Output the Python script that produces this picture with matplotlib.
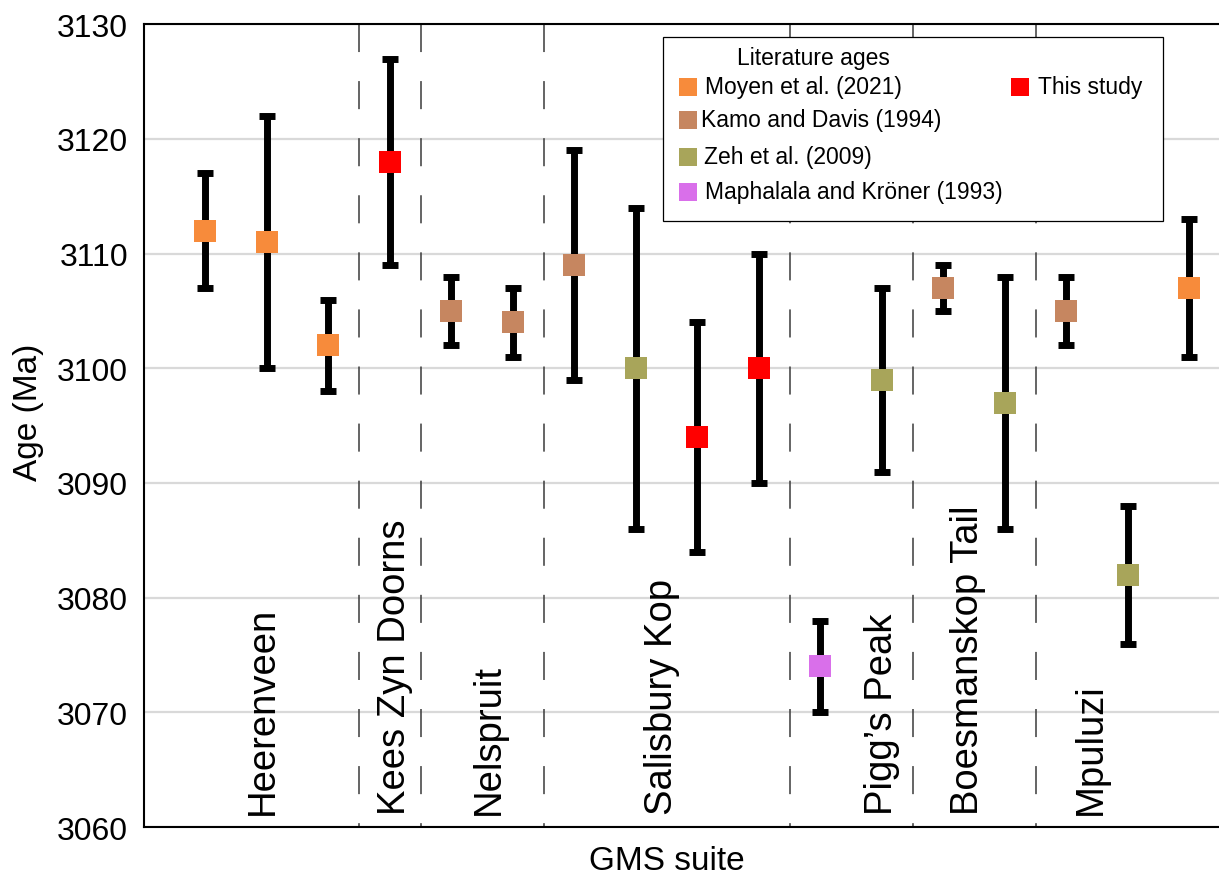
import matplotlib
matplotlib.use("Agg")
import matplotlib.pyplot as plt
from matplotlib.lines import Line2D
from matplotlib.patches import Rectangle

plt.rcParams["font.family"] = ["Liberation Sans", "DejaVu Sans"]
plt.rcParams["lines.scale_dashes"] = False

# U-Pb zircon ages (Ma) with 2-sigma uncertainties, one entry per sample
ages = [3112, 3111, 3102, 3118, 3105, 3104, 3109, 3100, 3094, 3100,
        3074, 3099, 3107, 3097, 3105, 3082, 3107]
errors = [5, 11, 4, 9, 3, 3, 10, 14, 10, 10, 4, 8, 2, 11, 3, 6, 6]
sources = ["Moyen", "Moyen", "Moyen", "This", "Kamo", "Kamo", "Kamo", "Zeh",
           "This", "This", "Maph", "Zeh", "Kamo", "Zeh", "Kamo", "Zeh", "Moyen"]

# Pluton groups: name, label position and boundary between groups
suite_names = ["Heerenveen", "Kees Zyn Doorns", "Nelspruit", "Salisbury Kop",
               "Pigg\u2019s Peak", "Boesmanskop Tail", "Mpuluzi"]
suite_label_x = [1.94, 4.08, 5.6, 8.42, 12.0, 13.4, 15.4]
suite_bounds = [3.5, 4.5, 6.5, 10.5, 12.5, 14.5]

source_colors = {
    "Moyen": "#F78B3B",
    "Kamo": "#C68660",
    "Zeh": "#A8A55A",
    "Maph": "#D96FEA",
    "This": "#FF0000",
}
source_labels = {
    "Moyen": "Moyen et al. (2021)",
    "Kamo": "Kamo and Davis (1994)",
    "Zeh": "Zeh et al. (2009)",
    "Maph": "Maphalala and Kr\u00f6ner (1993)",
    "This": "This study",
}

W, H = 1219, 879
fig = plt.figure(figsize=(W / 100, H / 100), dpi=100)
ax_left, ax_right, ax_top, ax_bottom = 144, 1219, 25.3, 828
ax = fig.add_axes([ax_left / W, 1 - ax_bottom / H,
                   (ax_right - ax_left) / W, (ax_bottom - ax_top) / H])

xs = list(range(1, len(ages) + 1))
ax.set_xlim(0, 17.48)
ax.set_ylim(3060, 3130)
ax.set_yticks(range(3060, 3131, 10))
ax.set_xticks([])
ax.tick_params(axis="y", length=0, pad=11.5, labelsize=23)

ax.yaxis.grid(True, color="#d9d9d9", linewidth=1.6)
ax.set_axisbelow(True)
for side in ("left", "top", "bottom"):
    ax.spines[side].set_linewidth(1.5)
    ax.spines[side].set_color("black")
ax.spines["right"].set_visible(False)

# group separators, dashes starting at the top edge
ax.vlines(suite_bounds, 3130, 3060, colors="#3a3a3a", linewidth=1.1,
          linestyles=[(0, (20.2, 20.9))], zorder=1.5)

# error bars and sample markers
ax.errorbar(xs, ages, yerr=errors, fmt="none", ecolor="black",
            elinewidth=5.0, capsize=6.1, capthick=5.0, zorder=2)
for key in source_colors:
    px = [x for x, s in zip(xs, sources) if s == key]
    py = [a for a, s in zip(ages, sources) if s == key]
    ax.plot(px, py, linestyle="none", marker="s", markersize=15.8,
            markerfacecolor=source_colors[key], markeredgewidth=0, zorder=3)

for name, lx in zip(suite_names, suite_label_x):
    ax.text(lx, 3061.1, name, rotation=90, ha="center", va="bottom",
            fontsize=27.5, zorder=2.5)

ax.set_xlabel("GMS suite", fontsize=24)
ax.xaxis.set_label_coords(8.5 / 17.48, (ax_bottom - 862) / (ax_bottom - ax_top))
ax.xaxis.label.set_va("center")
ax.set_ylabel("Age (Ma)", fontsize=24)
ax.yaxis.set_label_coords((28 - ax_left) / (ax_right - ax_left),
                          (ax_bottom - 412) / (ax_bottom - ax_top))
ax.yaxis.label.set_va("center")


# legend box laid out in figure pixels
def fpos(x, y):
    return x / W, 1 - y / H


lx0, ly0, lx1, ly1 = 663, 38, 1163, 222
fig.add_artist(Rectangle(fpos(lx0, ly1), (lx1 - lx0) / W, (ly1 - ly0) / H,
                         transform=fig.transFigure, facecolor="white",
                         edgecolor="black", linewidth=0.9, zorder=5))
fig.text(*fpos(737, 59), "Literature ages", fontsize=16.5, ha="left",
         va="center", zorder=6)
legend_rows = [("Moyen", 688, 87.5, 705), ("Kamo", 688, 121, 701),
               ("Zeh", 688, 157.5, 704), ("Maph", 688, 193, 705),
               ("This", 1020, 87.5, 1038)]
for key, mx, my, tx in legend_rows:
    fig.add_artist(Line2D([mx / W], [1 - my / H], transform=fig.transFigure,
                          linestyle="none", marker="s", markersize=13.5,
                          markerfacecolor=source_colors[key],
                          markeredgewidth=0, zorder=6))
    fig.text(*fpos(tx, my), source_labels[key], fontsize=16.5, ha="left",
             va="center", zorder=6)

fig.savefig("out.png", dpi=100)
